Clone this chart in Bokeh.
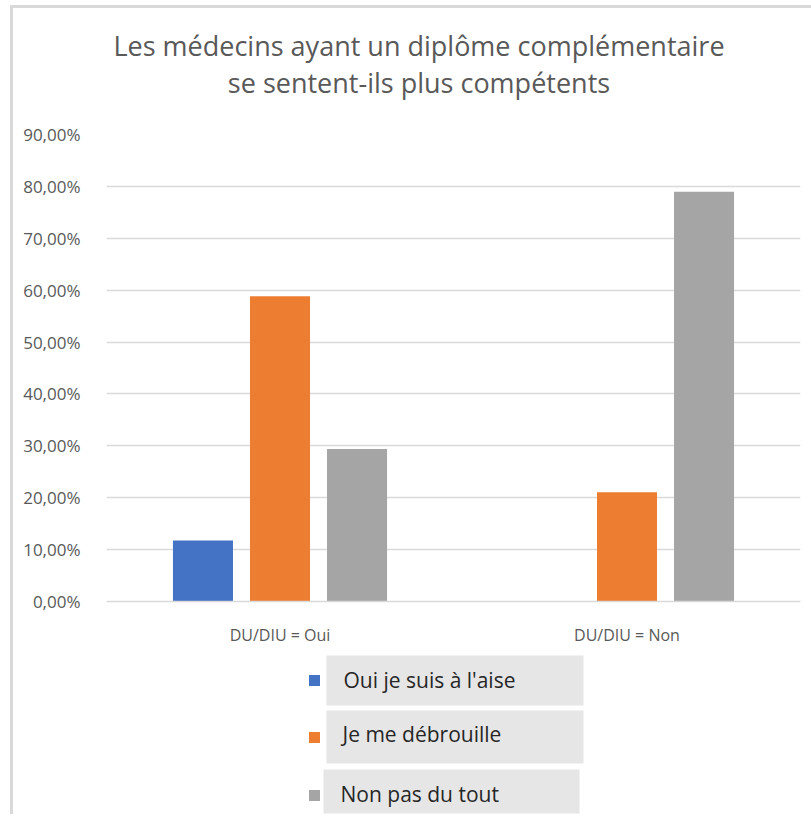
from bokeh.plotting import figure
from bokeh.layouts import column
from bokeh.models import (ColumnDataSource, FactorRange, Range1d, CustomJSTickFormatter,
                          FixedTicker)
from bokeh.transform import dodge
from bokeh.core.properties import value
from bokeh.embed import file_html
from bokeh.resources import INLINE

# ---- data ----
title_lines = ["Les médecins ayant un diplôme complémentaire",
               "se sentent-ils plus compétents"]
groups = ["DU/DIU = Oui", "DU/DIU = Non"]
series = ["Oui je suis à l'aise", "Je me débrouille", "Non pas du tout"]
oui_aise = [11.76, 0.0]
debrouille = [58.82, 21.05]
pas_du_tout = [29.41, 78.95]
colors = ["#4472C4", "#ED7D31", "#A5A5A5"]
y_ticks = [0, 10, 20, 30, 40, 50, 60, 70, 80, 90]

FONT = "Open Sans"
TXT = "#595959"
GRID = "#d9d9d9"
W = 798
BL, BR = 93, 11          # left / right borders shared by all figures
FX0, FX1 = 106, 800      # frame edges in page pixels


def blank(y_top, y_bot):
    # page-pixel coordinate panel (frame aligned with the chart frame)
    f = figure(width=W, height=y_bot - y_top, x_range=Range1d(FX0, FX1),
               y_range=Range1d(y_bot, y_top),
               output_backend="svg", toolbar_location=None, min_border=0,
               min_border_left=BL, min_border_right=BR,
               x_axis_location=None, y_axis_location=None)
    f.grid.visible = False
    f.outline_line_color = None
    return f


# ---- title figure ----
tf = blank(8, 118)
tf.text(x=[418.5, 418.5], y=[45, 82], text=title_lines, text_font=value(FONT),
        text_font_size="27px", text_color=TXT, text_align="center",
        text_baseline="middle")

# ---- main chart ----
src = ColumnDataSource(dict(groups=groups, a=oui_aise, b=debrouille, c=pas_du_tout))
p = figure(width=W, height=535, x_range=FactorRange(*groups), y_range=Range1d(0, 90),
           output_backend="svg", toolbar_location=None,
           min_border_left=BL, min_border_right=BR, min_border_top=16, min_border_bottom=52)
p.outline_line_color = None
for key, off, col in zip(["a", "b", "c"], [-0.222, 0.0, 0.222], colors):
    p.vbar(x=dodge("groups", off, range=p.x_range), top=key, width=0.173, source=src,
           fill_color=col, line_color=None)

p.yaxis.ticker = FixedTicker(ticks=y_ticks)
p.yaxis.formatter = CustomJSTickFormatter(
    code="return tick.toFixed(2).replace('.', ',') + '%';")
p.yaxis.axis_line_color = None
p.yaxis.major_tick_line_color = None
p.yaxis.minor_tick_line_color = None
p.yaxis.major_label_standoff = 20
p.yaxis.major_label_text_font = FONT
p.yaxis.major_label_text_font_size = "17px"
p.yaxis.major_label_text_color = TXT

p.xaxis.axis_line_color = GRID
p.xaxis.axis_line_width = 1.5
p.xaxis.major_tick_line_color = None
p.xaxis.minor_tick_line_color = None
p.xaxis.major_label_standoff = 16
p.xaxis.major_label_text_font = FONT
p.xaxis.major_label_text_font_size = "16px"
p.xaxis.major_label_text_color = TXT

p.xgrid.grid_line_color = None
p.ygrid.grid_line_color = GRID
p.ygrid.grid_line_width = 1.5

# ---- legend figure ----
lf = blank(653, 814)
lf.quad(left=[326, 326, 323], right=[583, 583, 579], top=[655, 710, 769],
        bottom=[705, 763, 813], fill_color="#e7e6e6", line_color=None)
lf.scatter(x=[314, 314, 314], y=[680, 737, 795], marker="square", size=11,
           fill_color=colors, line_color=None)
lf.text(x=[343, 342, 340], y=[679, 733, 793], text=series, text_font=value(FONT),
        text_font_size="21px", text_color="#262626", text_align="left",
        text_baseline="middle")

layout = column(tf, p, lf, spacing=0,
                styles={"border-left": "3px solid #d9d9d9", "border-top": "3px solid #d9d9d9",
                        "margin-left": "10px", "margin-top": "5px"})

open("out.html", "w").write(file_html(layout, INLINE))
